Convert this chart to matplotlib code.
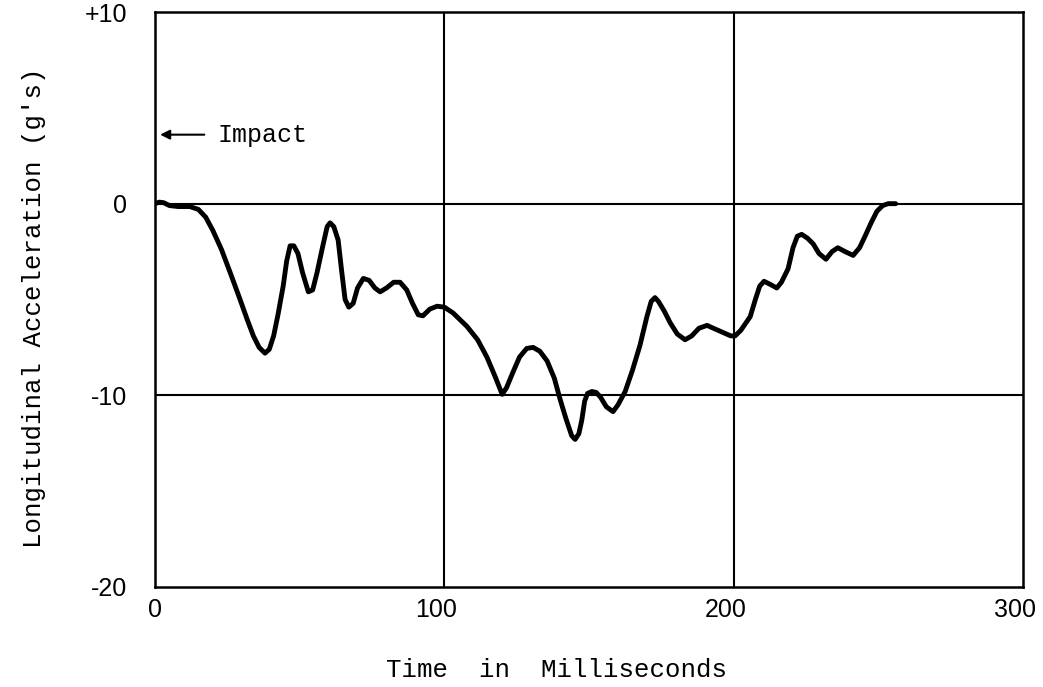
import matplotlib
matplotlib.use('Agg')
import matplotlib.pyplot as plt
from matplotlib.transforms import ScaledTranslation

# values (ms, g's)
time_ms = [0, 1.5, 3, 5, 8, 12, 15, 17.5, 20, 23, 26, 29.4, 32, 34, 36, 38, 39.5, 41,
           42.5, 44.3, 45.5, 46.7, 48, 49.4, 51, 53, 54.5, 56, 58, 59.5, 60.5, 61.8,
           63.3, 64.5, 65.7, 67, 68.5, 70, 72, 74, 76, 77.8, 80, 82.5, 84.7, 87, 89,
           91, 92.6, 95, 97.5, 100, 103, 107.8, 111.5, 114.7, 117.5, 120, 121.5, 123.7,
           126, 128.5, 130.7, 133, 135.5, 138, 140, 142, 144, 145.2, 146.5, 147.5,
           148.5, 149.5, 151, 152.5, 154, 156, 158.3, 160, 162.5, 165, 167.6, 170,
           171.5, 172.8, 174, 176, 178, 180.5, 183.2, 185.5, 188, 190.8, 193, 196, 199,
           200.5, 202.5, 205.7, 207.5, 209, 210.5, 212.5, 214.9, 216.5, 218.8, 220.5,
           222, 223.5, 225.5, 227.5, 229.5, 231.9, 234, 236, 238.5, 241.3, 243.5,
           245.4, 247.5, 249.5, 251.5, 253.4, 256]
accel_g = [0, 0.08, 0.05, -0.1, -0.15, -0.15, -0.3, -0.7, -1.4, -2.4, -3.6, -5.0, -6.1,
           -6.9, -7.5, -7.8, -7.6, -6.9, -5.8, -4.3, -3.0, -2.2, -2.2, -2.6, -3.6, -4.6,
           -4.5, -3.6, -2.2, -1.2, -1.0, -1.2, -1.9, -3.5, -5.0, -5.4, -5.2, -4.4, -3.9,
           -4.0, -4.4, -4.6, -4.4, -4.1, -4.1, -4.5, -5.2, -5.8, -5.85, -5.5, -5.35,
           -5.4, -5.7, -6.4, -7.1, -8.0, -9.0, -9.95, -9.6, -8.8, -8.0, -7.55, -7.5,
           -7.7, -8.2, -9.1, -10.2, -11.2, -12.1, -12.3, -12.0, -11.3, -10.3, -9.9,
           -9.8, -9.85, -10.1, -10.6, -10.85, -10.5, -9.8, -8.7, -7.4, -5.9, -5.1, -4.9,
           -5.1, -5.6, -6.2, -6.8, -7.1, -6.9, -6.5, -6.35, -6.5, -6.7, -6.9, -6.9,
           -6.6, -5.9, -5.0, -4.3, -4.05, -4.2, -4.4, -4.1, -3.4, -2.3, -1.7, -1.6,
           -1.8, -2.1, -2.6, -2.9, -2.5, -2.3, -2.5, -2.7, -2.3, -1.7, -1.0, -0.4,
           -0.1, 0.0, 0.0]

x_ticks = [0, 100, 200, 300]
x_labels = ['0', '100', '200', '300']
y_ticks = [10, 0, -10, -20]
y_labels = ['+10', '0', '-10', '-20']

mono = 'Liberation Mono'

fig = plt.figure(figsize=(10.43, 6.87), dpi=100)
ax = fig.add_axes([155 / 1043, 100 / 687, 868 / 1043, 575 / 687])

ax.set_xlim(0, 300)
ax.set_ylim(-20, 10)

# grid lines at the interior ticks
for xv in [100, 200]:
    ax.axvline(xv, color='black', lw=1.5, zorder=1)
for yv in [0, -10]:
    ax.axhline(yv, color='black', lw=1.5, zorder=1)

ax.plot(time_ms, accel_g, color='black', lw=3.5, solid_joinstyle='round',
        solid_capstyle='round', zorder=3)

ax.annotate('', xy=(0.8, 3.6), xytext=(18, 3.6),
            arrowprops=dict(arrowstyle='-|>', color='black', lw=1.5,
                            mutation_scale=14))
ax.text(21.5, 3.6, 'Impact', family=mono, fontsize=18, va='center', ha='left')

ax.set_xticks(x_ticks)
ax.set_xticklabels(x_labels)
ax.set_yticks(y_ticks)
ax.set_yticklabels(y_labels)
ax.tick_params(length=0, labelsize=18)
ax.tick_params(axis='x', pad=8)
ax.tick_params(axis='y', pad=20)
shift = ScaledTranslation(-8 / 100, 0, fig.dpi_scale_trans)
for i, lab in enumerate(ax.get_xticklabels()):
    lab.set_family('Liberation Sans')
    if i > 0:
        lab.set_transform(lab.get_transform() + shift)
for lab in ax.get_yticklabels():
    lab.set_family('Liberation Sans')

for sp in ax.spines.values():
    sp.set_linewidth(1.8)

fig.text(556 / 1043, 1 - 670 / 687, 'Time  in  Milliseconds', family=mono,
         fontsize=18.5, ha='center', va='center')
fig.text(34 / 1043, 1 - 308 / 687, "Longitudinal Acceleration (g's)", family=mono,
         fontsize=18.5, ha='center', va='center', rotation=90)

fig.savefig('out.png', dpi=100)
